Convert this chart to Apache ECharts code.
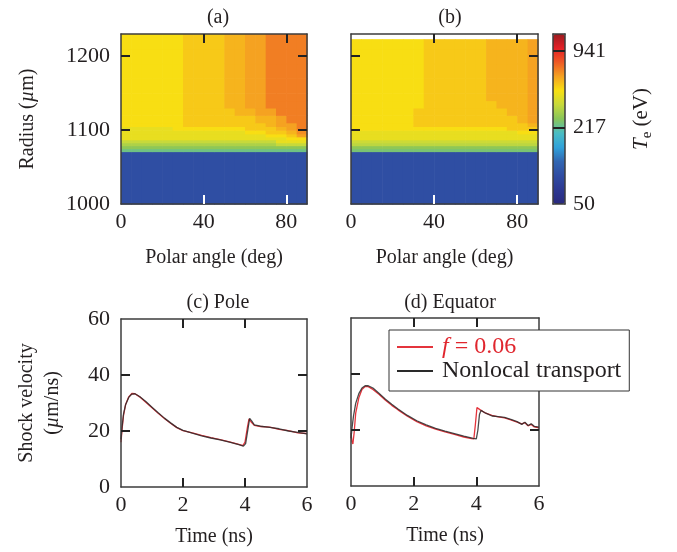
<!DOCTYPE html>
<html><head><meta charset="utf-8">
<script src="https://cdn.jsdelivr.net/npm/echarts@6/dist/echarts.min.js"></script>
<style>html,body{margin:0;padding:0;background:#fff}#c{width:677px;height:552px}</style>
</head><body><div id="c"></div>
<script>
const FONT = "'Liberation Serif','DejaVu Serif',serif";
const TXT = '#231f20';

// ---- (a),(b) electron temperature maps (eV) ----
const angleEdges = [0,5,10,15,20,25,30,35,40,45,50,55,60,65,70,75,80,85,90];
const radiusEdgesA = [1000,1071,1075,1079,1083,1087,1091,1095,1100,1105,1110,1120,1130,1140,1150,1170,1190,1210,1230];
const radiusEdgesB = [1000,1071,1075,1079,1083,1087,1091,1095,1100,1105,1110,1120,1130,1140,1150,1170,1190,1210,1223];
// rows: radius bands bottom -> top; columns: angle bands 0-5 ... 85-90
const tempA = [
 [88,88,88,88,88,88,88,88,88,88,88,88,88,88,88,88,88,88],
 [230,230,230,230,230,230,230,230,230,230,230,230,230,230,230,230,230,230],
 [262,262,262,262,262,262,262,262,262,262,262,262,262,262,262,262,262,262],
 [300,300,300,300,300,300,300,300,300,300,300,300,300,300,300,336,336,336],
 [336,336,336,336,336,336,336,336,336,336,336,336,336,336,336,402,402,402],
 [402,402,402,402,402,402,402,402,402,402,402,402,402,402,402,402,443,443],
 [402,402,402,402,402,402,402,402,402,402,402,402,402,402,443,443,486,576],
 [402,402,402,402,402,402,402,402,402,402,402,402,443,443,486,486,532,620],
 [402,402,402,402,402,443,443,443,443,443,443,443,486,486,486,532,576,660],
 [443,443,443,443,443,443,486,486,486,486,486,486,486,486,532,576,576,660],
 [443,443,443,443,443,443,486,486,486,486,486,486,486,532,532,576,660,660],
 [443,443,443,443,443,443,486,486,486,486,486,532,532,576,576,660,660,660],
 [443,443,443,443,443,443,486,486,486,486,532,532,576,576,660,660,660,660],
 [443,443,443,443,443,443,486,486,486,486,532,532,576,576,660,660,660,660],
 [443,443,443,443,443,443,486,486,486,486,532,532,576,576,660,660,660,660],
 [443,443,443,443,443,443,486,486,486,486,532,532,576,576,660,660,660,660],
 [443,443,443,443,443,443,486,486,486,486,532,532,576,576,660,660,660,660],
 [443,443,443,443,443,443,486,486,486,486,532,532,576,576,660,660,660,660]
];
const tempB = [
 [88,88,88,88,88,88,88,88,88,88,88,88,88,88,88,88,88,88],
 [240,240,240,240,240,240,240,240,240,240,240,240,240,240,240,240,240,240],
 [262,262,262,262,262,262,262,262,262,262,262,262,262,262,262,262,262,262],
 [320,320,320,320,320,320,320,320,320,320,320,320,320,320,320,320,320,320],
 [345,345,345,345,345,345,345,345,345,345,345,345,345,345,345,345,345,345],
 [402,402,402,402,402,402,402,402,402,402,402,402,402,402,402,402,402,402],
 [402,402,402,402,402,402,402,402,402,402,402,402,402,402,402,402,402,402],
 [402,402,402,402,402,402,402,402,402,402,402,402,402,402,402,402,443,443],
 [443,443,443,443,443,443,443,443,443,443,443,443,443,443,443,486,486,486],
 [443,443,443,443,443,443,486,486,486,486,486,486,486,486,486,486,486,532],
 [443,443,443,443,443,443,486,486,486,486,486,486,486,486,486,486,532,576],
 [443,443,443,443,443,443,486,486,486,486,486,486,486,486,486,532,532,576],
 [443,443,443,443,443,443,443,486,486,486,486,486,486,486,532,532,532,576],
 [443,443,443,443,443,443,443,486,486,486,486,486,486,532,532,532,532,576],
 [443,443,443,443,443,443,443,486,486,486,486,486,486,532,532,532,532,576],
 [443,443,443,443,443,443,443,486,486,486,486,486,486,532,532,532,532,576],
 [443,443,443,443,443,443,443,486,486,486,486,486,486,532,532,532,532,576],
 [443,443,443,443,443,443,443,486,486,486,486,486,486,532,532,532,532,576]
];
const colorbarTicks = [50, 217, 941];
const colorbarMin = 50, colorbarMax = 1300;
const colormap = ['#2a2a7e','#2c3892','#2f4ca2','#3166b2','#30a2da','#4abdc4','#88c55a','#c6d93c','#f8e012','#f5a221','#ee5a25','#e41f26','#9a1c20'];

// ---- (c),(d) shock velocity (um/ns) vs time (ns) ----
const poleTimeNL = [0,0.03,0.08,0.15,0.25,0.35,0.45,0.6,0.8,1.0,1.2,1.4,1.6,1.8,2.0,2.3,2.6,2.9,3.2,3.5,3.8,3.95,4.02,4.1,4.15,4.22,4.3,4.5,4.8,5.1,5.4,5.7,6.0];
const poleNL     = [17,21,26,29.5,32,33.2,33.3,32.3,30.5,28.5,26.5,24.6,22.9,21.3,20.2,19.2,18.3,17.5,16.8,16.0,15.1,14.6,15.5,21,24.5,23.5,22.2,21.7,21.3,20.8,20.0,19.5,19.0];
const poleTimeF  = [0,0.03,0.08,0.15,0.25,0.35,0.45,0.6,0.8,1.0,1.2,1.4,1.6,1.8,2.0,2.3,2.6,2.9,3.2,3.5,3.8,3.93,4.0,4.08,4.13,4.2,4.3,4.5,4.8,5.1,5.4,5.7,6.0];
const poleF      = [16,20,25.5,29.5,32.2,33.4,33.3,32.2,30.3,28.3,26.3,24.5,22.8,21.2,20.1,19.3,18.4,17.6,16.9,16.1,15.2,14.8,16,21.5,24.3,23.2,22.0,21.6,21.4,20.6,20.1,19.3,19.1];
const eqTimeNL = [0,0.03,0.08,0.15,0.25,0.35,0.45,0.55,0.7,0.9,1.1,1.3,1.5,1.8,2.1,2.4,2.7,3.0,3.3,3.6,3.9,4.0,4.05,4.1,4.15,4.2,4.3,4.5,4.7,4.9,5.1,5.3,5.45,5.55,5.65,5.75,5.85,6.0];
const eqNL     = [17,20.5,25,29.5,33,35,35.8,35.8,35,33,31,29.2,27.5,25.2,23.3,21.8,20.6,19.6,18.7,17.8,17.0,16.8,20,25.5,27,26.5,26,25,24.8,24.5,23.8,23.0,22.0,22.8,21.6,22.2,21.3,21.0];
const eqTimeF  = [0,0.03,0.06,0.1,0.15,0.25,0.35,0.45,0.55,0.7,0.9,1.1,1.3,1.5,1.8,2.1,2.4,2.7,3.0,3.3,3.6,3.85,3.92,3.97,4.02,4.08,4.15,4.3,4.5,4.7,4.9,5.1,5.3,5.45,5.55,5.65,5.75,5.85,6.0];
const eqF      = [19,16,15,19,26,31.5,34.5,35.5,35.5,34.5,32.7,30.6,28.8,27.2,24.9,23.0,21.5,20.3,19.3,18.4,17.5,16.9,16.8,22,28,28.3,27,26,25.2,24.7,24.3,23.6,22.8,22.2,22.6,21.5,22.0,21.1,20.8];

const LINE_F = '#e4343c', LINE_NL = '#2a2a2a';
const NAME_F = 'f = 0.06', NAME_NL = 'Nonlocal transport';

function cells(table, rEdges) {
  const out = [];
  for (let r = 0; r < table.length; r++)
    for (let c = 0; c < table[r].length; c++)
      out.push([angleEdges[c], angleEdges[c+1], rEdges[r], rEdges[r+1], Math.log(table[r][c])]);
  return out;
}
function pairs(t, v) { return t.map((x, i) => [x, v[i]]); }

const axLine = {show: true, onZero: false, lineStyle: {color: '#3c3c3c', width: 1.5}};
const labelStyle = {fontSize: 22, fontFamily: FONT, color: TXT, formatter: v => String(v)};
const nameStyle = {fontSize: 20, fontFamily: FONT, color: TXT};

function xAxes(g, min, max, ticks, labels, name, bottomTickColor, nameGap) {
  return [
    {type: 'value', gridIndex: g, min, max, position: 'bottom', z: 10, axisLine: axLine, splitLine: {show: false},
     axisTick: {show: true, inside: true, length: 9, customValues: ticks, lineStyle: {color: bottomTickColor, width: 2}},
     axisLabel: labels ? Object.assign({show: true, customValues: labels, margin: 7}, labelStyle) : {show: false},
     name: name || '', nameLocation: 'middle', nameGap: nameGap || 40, nameTextStyle: nameStyle},
    {type: 'value', gridIndex: g, min, max, position: 'top', z: 10, axisLine: axLine, splitLine: {show: false},
     axisTick: {show: true, inside: true, length: 9, customValues: ticks, lineStyle: {color: '#222', width: 2}},
     axisLabel: {show: false}}
  ];
}
function yAxes(g, min, max, ticks, labels, name, nameGap, rich) {
  return [
    {type: 'value', gridIndex: g, min, max, position: 'left', z: 10, axisLine: axLine, splitLine: {show: false},
     axisTick: {show: true, inside: true, length: 9, customValues: ticks, lineStyle: {color: '#222', width: 2}},
     axisLabel: labels ? Object.assign({show: true, customValues: labels, margin: 11}, labelStyle) : {show: false},
     name: name || '', nameLocation: 'middle', nameRotate: 90, nameGap: nameGap || 0,
     nameTextStyle: Object.assign({rich: rich || {}}, nameStyle)},
    {type: 'value', gridIndex: g, min, max, position: 'right', z: 10, axisLine: axLine, splitLine: {show: false},
     axisTick: {show: true, inside: true, length: 9, customValues: ticks, lineStyle: {color: '#222', width: 2}},
     axisLabel: {show: false}}
  ];
}

function renderCell(params, api) {
  const a = api.coord([api.value(0), api.value(3)]);
  const b = api.coord([api.value(1), api.value(2)]);
  return {type: 'rect', shape: {x: a[0], y: a[1], width: b[0] - a[0] + 0.6, height: b[1] - a[1] + 0.6},
          style: {fill: api.visual('color')}};
}

const lnMin = Math.log(colorbarMin), lnMax = Math.log(colorbarMax);
const italicRich = {
  n: {fontSize: 20, fontFamily: FONT, color: TXT, lineHeight: 26},
  i: {fontSize: 20, fontFamily: FONT, color: TXT, fontStyle: 'italic', lineHeight: 26}
};

const chart = echarts.init(document.getElementById('c'), null, {renderer: 'canvas'});
chart.setOption({
  animation: false,
  backgroundColor: '#fff',
  title: [
    {text: '(a)', left: 213, top: 3, textAlign: 'center', textStyle: {fontSize: 20, fontFamily: FONT, fontWeight: 'normal', color: TXT}},
    {text: '(b)', left: 445, top: 3, textAlign: 'center', textStyle: {fontSize: 20, fontFamily: FONT, fontWeight: 'normal', color: TXT}},
    {text: '(c) Pole', left: 213, top: 288, textAlign: 'center', textStyle: {fontSize: 20, fontFamily: FONT, fontWeight: 'normal', color: TXT}},
    {text: '(d) Equator', left: 445, top: 288, textAlign: 'center', textStyle: {fontSize: 20, fontFamily: FONT, fontWeight: 'normal', color: TXT}}
  ],
  grid: [
    {left: 121, top: 34, width: 186, height: 170},
    {left: 351, top: 34, width: 187, height: 170},
    {left: 553, top: 34, width: 12, height: 170},
    {left: 121, top: 319, width: 186, height: 168},
    {left: 351, top: 318, width: 188, height: 168}
  ],
  xAxis: [].concat(
    xAxes(0, 0, 90, [40, 80], [0, 40, 80], 'Polar angle (deg)', '#ffffff', 44),
    xAxes(1, 0, 90, [40, 80], [0, 40, 80], 'Polar angle (deg)', '#ffffff', 44),
    xAxes(2, 0, 1, [], null, '', '#222'),
    xAxes(3, 0, 6, [2, 4], [0, 2, 4, 6], 'Time (ns)', '#222', 40),
    xAxes(4, 0, 6, [2, 4], [0, 2, 4, 6], 'Time (ns)', '#222', 40)
  ),
  yAxis: [].concat(
    yAxes(0, 1000, 1230, [1100, 1200], [1000, 1100, 1200], '{n|Radius (}{i|µ}{n|m)}', 80, italicRich),
    yAxes(1, 1000, 1230, [1100, 1200], null),
    [
      {type: 'value', gridIndex: 2, min: lnMin, max: lnMax, position: 'left', z: 10, axisLine: axLine,
       splitLine: {show: false}, axisTick: {show: false}, axisLabel: {show: false}},
      {type: 'value', gridIndex: 2, min: lnMin, max: lnMax, position: 'right', z: 10, axisLine: axLine,
       splitLine: {show: false},
       axisTick: {show: true, inside: true, length: 12, customValues: colorbarTicks.slice(1).map(Math.log), lineStyle: {color: '#222', width: 2}},
       axisLabel: Object.assign({}, labelStyle, {show: true, margin: 8, customValues: colorbarTicks.map(Math.log),
         formatter: v => String(Math.round(Math.exp(v)))}),
       name: '{t|T}{s|e}{n| (eV)}', nameLocation: 'middle', nameRotate: 90, nameGap: 62,
       nameTextStyle: {rich: {
         t: {fontSize: 21, fontFamily: FONT, color: TXT, fontStyle: 'italic', lineHeight: 28, verticalAlign: 'middle'},
         s: {fontSize: 15, fontFamily: FONT, color: TXT, lineHeight: 28, verticalAlign: 'bottom'},
         n: {fontSize: 21, fontFamily: FONT, color: TXT, lineHeight: 28, verticalAlign: 'middle'}
       }}}
    ],
    yAxes(3, 0, 60, [20, 40], [0, 20, 40, 60], '{n|Shock velocity}\n{n|(}{i|µ}{n|m/ns)}', 55, italicRich),
    yAxes(4, 0, 60, [20, 40], null)
  ),
  visualMap: {
    type: 'continuous', show: true, seriesIndex: [0, 1], dimension: 4,
    min: lnMin, max: lnMax, left: 553, top: 34, itemWidth: 12, itemHeight: 170,
    calculable: false, hoverLink: false, padding: 0, text: null, orient: 'vertical',
    inRange: {color: colormap}, z: 3
  },
  legend: {
    orient: 'vertical', left: 389, top: 330, z: 20,
    padding: [5, 8, 8, 8], itemGap: 0, itemWidth: 36, itemHeight: 2, icon: 'rect',
    backgroundColor: '#fff', borderColor: '#333', borderWidth: 1, borderRadius: 0,
    data: [NAME_F, NAME_NL],
    formatter: name => name === NAME_F ? '{fi|f}{fr| = 0.06}' : '{k|Nonlocal transport}',
    textStyle: {fontSize: 24, fontFamily: FONT, padding: [0, 0, 0, 4], rich: {
      fi: {fontSize: 24, fontFamily: FONT, fontStyle: 'italic', color: '#e0262e', lineHeight: 22},
      fr: {fontSize: 24, fontFamily: FONT, color: '#e0262e', lineHeight: 22},
      k: {fontSize: 24, fontFamily: FONT, color: TXT, lineHeight: 22}
    }}
  },
  series: [
    {type: 'custom', xAxisIndex: 0, yAxisIndex: 0, renderItem: renderCell, encode: {x: [0, 1], y: [2, 3]}, data: cells(tempA, radiusEdgesA), z: 1, silent: true},
    {type: 'custom', xAxisIndex: 2, yAxisIndex: 2, renderItem: renderCell, encode: {x: [0, 1], y: [2, 3]}, data: cells(tempB, radiusEdgesB), z: 1, silent: true},
    {type: 'line', name: NAME_F, xAxisIndex: 6, yAxisIndex: 6, data: pairs(poleTimeF, poleF), showSymbol: false, lineStyle: {color: LINE_F, width: 1.3}, itemStyle: {color: LINE_F}},
    {type: 'line', name: NAME_NL, xAxisIndex: 6, yAxisIndex: 6, data: pairs(poleTimeNL, poleNL), showSymbol: false, lineStyle: {color: LINE_NL, width: 1.3, opacity: 0.85}, itemStyle: {color: LINE_NL}},
    {type: 'line', name: NAME_F, xAxisIndex: 8, yAxisIndex: 8, data: pairs(eqTimeF, eqF), showSymbol: false, lineStyle: {color: LINE_F, width: 1.3}, itemStyle: {color: LINE_F}},
    {type: 'line', name: NAME_NL, xAxisIndex: 8, yAxisIndex: 8, data: pairs(eqTimeNL, eqNL), showSymbol: false, lineStyle: {color: LINE_NL, width: 1.3, opacity: 0.85}, itemStyle: {color: LINE_NL}}
  ]
});
</script></body></html>
